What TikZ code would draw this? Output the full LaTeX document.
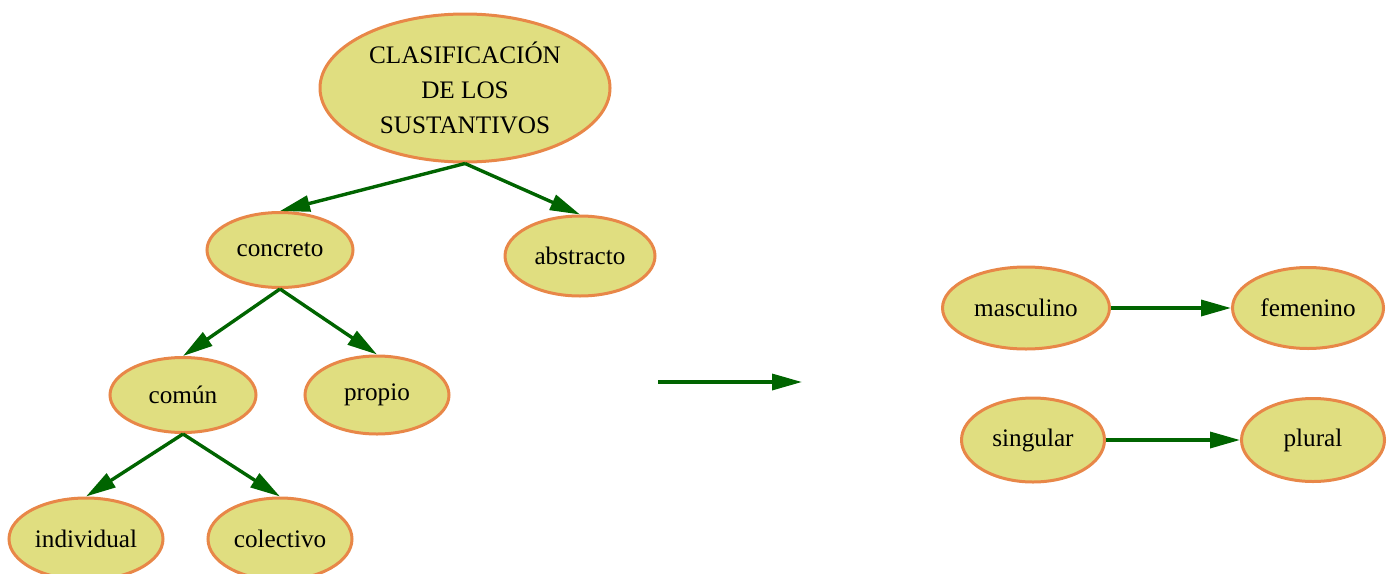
\documentclass[tikz,border=0pt]{standalone}
\usepackage{fontspec}
\setmainfont{Liberation Serif}
\usetikzlibrary{shapes.geometric,arrows.meta}
\definecolor{fillc}{RGB}{224,222,128}
\definecolor{bord}{RGB}{232,135,72}
\definecolor{edgec}{RGB}{0,100,0}
\tikzset{
  ov/.style={ellipse, draw=bord, fill=fillc, line width=1.5pt, inner sep=0pt,
    font=\fontsize{12.6}{17.5}\selectfont, align=center},
  conn/.style={draw=edgec, line width=1.7pt,
    -{Triangle[length=15pt,width=8pt]}, color=edgec}
}
\begin{document}
\begin{tikzpicture}[x=0.5pt,y=-0.5pt]
\useasboundingbox (0,0) rectangle (1395,573);
\node[ov, minimum width=145pt, minimum height=74pt] (root) at (465,88) {CLASIFICACIÓN\\DE LOS\\SUSTANTIVOS};
\node[ov, minimum width=73pt, minimum height=37.5pt] (concreto) at (280,250) {concreto};
\node[ov, minimum width=75pt, minimum height=40pt] (abstracto) at (580,256) {abstracto};
\node[ov, minimum width=73pt, minimum height=37.5pt] (comun) at (183,395) {común};
\node[ov, minimum width=72pt, minimum height=39pt] (propio) at (377,395) {propio};
\node[ov, minimum width=77pt, minimum height=41pt] (individual) at (86,539) {individual};
\node[ov, minimum width=72pt, minimum height=41pt] (colectivo) at (280,539) {colectivo};
\node[ov, minimum width=83.5pt, minimum height=41pt] (masculino) at (1026,308) {masculino};
\node[ov, minimum width=75.5pt, minimum height=40.5pt] (femenino) at (1308,308) {femenino};
\node[ov, minimum width=71.5pt, minimum height=42pt] (singular) at (1033,440) {singular};
\node[ov, minimum width=71.5pt, minimum height=41.5pt] (plural) at (1313,440) {plural};
\coordinate (ma) at (658,382);
\coordinate (mb) at (802,382);
\draw[conn] (root.south) -- (concreto.north);
\draw[conn] (root.south) -- (abstracto.north);
\draw[conn] (concreto.south) -- (comun.north);
\draw[conn] (concreto.south) -- (propio.north);
\draw[conn] (comun.south) -- (individual.north);
\draw[conn] (comun.south) -- (colectivo.north);
\draw[conn] (masculino.east) -- (femenino.west);
\draw[conn] (singular.east) -- (plural.west);
\draw[conn] (ma) -- (mb);
\end{tikzpicture}
\end{document}
